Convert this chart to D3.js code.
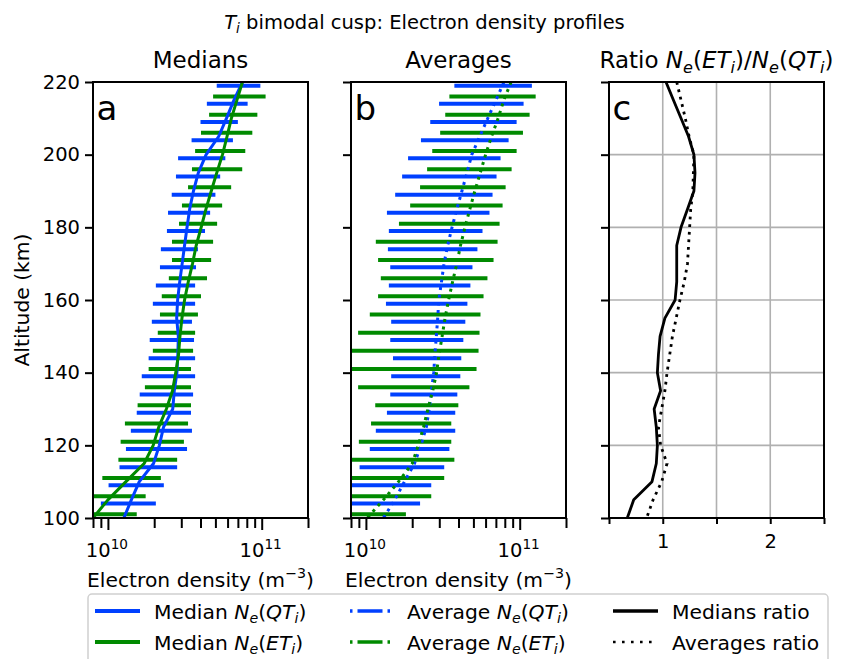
<!DOCTYPE html>
<html>
<head>
<meta charset="utf-8">
<script src="https://cdn.jsdelivr.net/npm/d3@7"></script>
<style>
  body { margin: 0; background: #fff; }
  svg { font-family: "DejaVu Sans", sans-serif; }
</style>
</head>
<body>
<svg id="chart" width="849" height="659"></svg>
<script>
  // altitude bins (km) of the spread bars, top to bottom
  const binAlt = [217.5, 212.5, 207.5, 202.5, 197.5, 192.5, 187.5, 182.5, 177.5, 172.5, 167.5, 162.5,
                  157.5, 152.5, 147.5, 142.5, 137.5, 132.5, 127.5, 122.5, 117.5, 112.5, 107.5, 102.5];
  // altitudes (km) of the profile lines
  const lineAlt = [220, 215, 210, 205, 200, 195, 190, 185, 180, 175, 170, 165, 160,
                   155, 150, 145, 140, 135, 130, 125, 120, 115, 110, 105, 100];

  // electron densities, in units of 1e10 m^-3
  // panel a: median spread bars
  const medQtLo = [5.1, 4.4, 4.0, 3.5, 2.86, 2.77, 2.6, 2.46, 2.42, 2.21, 2.18, 2.05, 1.96, 1.93, 1.87, 1.84, 1.66, 1.61, 1.54, 1.41, 1.31, 1.19, 1.01, 0.90];
  const medQtHi = [9.8, 8.1, 7.0, 6.5, 5.8, 5.37, 5.0, 4.62, 4.28, 3.85, 3.74, 3.69, 3.69, 3.52, 3.63, 3.69, 3.69, 3.58, 3.47, 3.52, 3.27, 2.82, 2.31, 2.05];
  const medEtLo = [4.83, 4.55, 4.03, 3.69, 3.52, 3.32, 3.03, 2.90, 2.61, 2.61, 2.49, 2.24, 2.18, 2.11, 1.96, 1.84, 1.74, 1.56, 1.29, 1.21, 1.17, 0.92, 0.70, 0.60];
  const medEtHi = [10.6, 9.37, 8.69, 7.82, 7.47, 6.33, 5.53, 5.13, 4.83, 4.69, 4.41, 4.03, 3.85, 3.69, 3.58, 3.47, 3.47, 3.47, 3.32, 3.12, 2.82, 2.21, 1.76, 1.54];
  // panel b: average spread bars
  const avgQtLo = [3.76, 2.99, 2.62, 2.28, 1.88, 1.72, 1.55, 1.37, 1.41, 1.39, 1.44, 1.41, 1.35, 1.46, 1.44, 1.50, 1.46, 1.44, 1.37, 1.16, 1.06, 0.91, 0.75, 0.70];
  const avgQtHi = [12.0, 10.6, 9.55, 8.47, 7.51, 7.07, 6.66, 6.36, 5.73, 5.31, 4.93, 4.78, 4.57, 4.43, 4.30, 4.17, 4.11, 3.93, 3.81, 3.81, 3.49, 3.23, 2.66, 2.25];
  const avgEtLo = [3.49, 3.28, 3.04, 2.70, 2.50, 2.25, 1.94, 1.64, 1.16, 1.20, 1.25, 1.20, 1.06, 0.89, 0.75, 0.72, 0.89, 1.15, 1.08, 0.90, 0.70, 0.65, 0.60, 0.60];
  const avgEtHi = [12.7, 11.6, 10.5, 9.55, 8.86, 8.10, 7.74, 7.40, 7.18, 6.76, 6.17, 5.82, 5.56, 5.48, 5.40, 5.24, 4.71, 3.99, 3.59, 3.59, 3.76, 3.23, 2.66, 1.82];

  // profile lines
  const medQt = [7.5, 6.6, 5.9, 5.25, 4.35, 3.87, 3.6, 3.4, 3.27, 3.15, 3.04, 2.93, 2.84, 2.80, 2.87, 2.85, 2.81, 2.70, 2.64, 2.30, 2.16, 1.98, 1.60, 1.42, 1.27];
  const medEt = [7.5, 6.9, 6.35, 5.95, 5.56, 5.1, 4.7, 4.34, 4.04, 3.75, 3.55, 3.33, 3.15, 3.03, 2.94, 2.88, 2.76, 2.63, 2.40, 2.14, 1.97, 1.72, 1.31, 1.0, 0.80];
  const avgQt = [7.9, 7.0, 6.2, 5.5, 4.88, 4.54, 4.21, 3.90, 3.63, 3.40, 3.22, 3.10, 2.98, 2.93, 2.87, 2.81, 2.76, 2.67, 2.58, 2.47, 2.28, 2.07, 1.78, 1.54, 1.30];
  const avgEt = [8.8, 7.88, 7.24, 6.56, 6.0, 5.54, 5.11, 4.74, 4.41, 4.12, 3.90, 3.66, 3.45, 3.27, 3.13, 2.99, 2.88, 2.72, 2.53, 2.37, 2.19, 2.0, 1.63, 1.30, 1.02];

  // panel c: ratios ET/QT
  const medRatio = [1.03, 1.10, 1.17, 1.24, 1.29, 1.30, 1.29, 1.23, 1.17, 1.13, 1.13, 1.13, 1.115, 1.02, 0.975, 0.96, 0.95, 0.98, 0.92, 0.94, 0.95, 0.94, 0.90, 0.73, 0.67];
  const avgRatio = [1.13, 1.17, 1.21, 1.245, 1.29, 1.285, 1.28, 1.26, 1.25, 1.24, 1.23, 1.20, 1.16, 1.125, 1.09, 1.065, 1.04, 1.02, 0.99, 0.96, 0.98, 1.04, 0.99, 0.91, 0.85];

  const altTicks = [100, 120, 140, 160, 180, 200, 220];
  const logMajor = [1, 10];
  const logMinor = [0.8, 0.9, 2, 3, 4, 5, 6, 7, 8, 9, 20];
  const ratioTicks = [0.5, 1, 1.5, 2, 2.5];

  const BLUE = "#0040ff", GREEN = "#008a00";
  const FS = 19.5;      // tick labels
  const FL = 20.3;      // axis labels and legend
  const plotTop = 82, plotBottom = 518, pw = 215;
  const leftA = 93, leftB = 351, leftC = 609;

  const svg = d3.select("#chart");
  const defs = svg.append("defs");

  const y = d3.scaleLinear().domain([100, 220]).range([plotBottom, plotTop]);
  const xa = d3.scaleLog().domain([0.8, 20]).range([leftA, leftA + pw]);
  const xb = d3.scaleLog().domain([0.8, 20]).range([leftB, leftB + pw]);
  const xc = d3.scaleLinear().domain([0.5, 2.5]).range([leftC, leftC + pw]);

  // text with italic / sub / superscript pieces (mathtext look-alike)
  function rich(sel, parts, fs) {
    let shift = 0;
    parts.forEach((p) => {
      const target = p.sub ? 0.2 * fs : p.sup ? -0.42 * fs : 0;
      const ts = sel.append("tspan").text(p.t).attr("dy", target - shift);
      shift = target;
      if (p.sub || p.sup) ts.attr("font-size", 0.7 * fs);
      if (p.it) ts.attr("font-style", "italic");
    });
    return sel;
  }

  function panel(id, left) {
    defs.append("clipPath").attr("id", id)
      .append("rect").attr("x", left).attr("y", plotTop).attr("width", pw).attr("height", plotBottom - plotTop);
    return svg.append("g").attr("clip-path", `url(#${id})`);
  }

  function bars(g, x, lo, hi, off, color) {
    g.append("g").selectAll("line").data(binAlt).join("line")
      .attr("x1", (d, i) => x(lo[i]))
      .attr("x2", (d, i) => x(hi[i]))
      .attr("y1", (d) => y(d + off))
      .attr("y2", (d) => y(d + off))
      .attr("stroke", color)
      .attr("stroke-width", 4);
  }

  function profile(g, x, vals, color, width, dash) {
    const line = d3.line().x((d) => x(d[1])).y((d) => y(d[0]));
    const p = g.append("path").datum(d3.zip(lineAlt, vals))
      .attr("d", line)
      .attr("fill", "none")
      .attr("stroke", color)
      .attr("stroke-width", width)
      .attr("stroke-linejoin", "round");
    if (dash) p.attr("stroke-dasharray", dash);
  }

  function leftAxis(left, labels) {
    const g = svg.append("g").attr("transform", `translate(${left},0)`)
      .call(d3.axisLeft(y).tickValues(altTicks).tickSize(8).tickPadding(5)
        .tickFormat(labels ? d3.format("d") : () => ""));
    g.select(".domain").remove();
    g.selectAll(".tick line").attr("stroke", "#000").attr("stroke-width", 2);
    g.selectAll(".tick text").attr("font-size", FS).attr("fill", "#000")
      .attr("font-family", "DejaVu Sans");
  }

  function logAxis(x, cx) {
    const g = svg.append("g").attr("transform", `translate(0,${plotBottom})`)
      .call(d3.axisBottom(x).tickValues(logMinor.concat(logMajor)).tickSizeOuter(0).tickFormat(() => ""));
    g.select(".domain").remove();
    g.selectAll(".tick line").attr("stroke", "#000").attr("stroke-width", 2)
      .attr("y2", (d) => (logMajor.includes(d) ? 12 : 10));
    logMajor.forEach((d) => {
      const t = svg.append("text").attr("x", x(d) - 1).attr("y", 557)
        .attr("text-anchor", "middle").attr("font-size", FS);
      rich(t, [{ t: "10" }, { t: String(10 + Math.log10(d)), sup: 1 }], FS);
    });
    const lab = svg.append("text").attr("x", cx).attr("y", 587)
      .attr("text-anchor", "middle").attr("font-size", FL);
    rich(lab, [{ t: "Electron density (m" }, { t: "\u22123", sup: 1 }, { t: ")" }], FL);
  }

  function frame(left) {
    svg.append("rect").attr("x", left).attr("y", plotTop).attr("width", pw).attr("height", plotBottom - plotTop)
      .attr("fill", "none").attr("stroke", "#000").attr("stroke-width", 2);
  }

  function letter(left, s) {
    svg.append("text").attr("x", left + 3.5).attr("y", 120).attr("font-size", 34).text(s);
  }

  // ---- panel a: medians
  const ga = panel("clipA", leftA);
  bars(ga, xa, medQtLo, medQtHi, 1.5, BLUE);
  bars(ga, xa, medEtLo, medEtHi, -1.5, GREEN);
  profile(ga, xa, medQt, BLUE, 3);
  profile(ga, xa, medEt, GREEN, 3);

  // ---- panel b: averages
  const gb = panel("clipB", leftB);
  bars(gb, xb, avgQtLo, avgQtHi, 1.5, BLUE);
  bars(gb, xb, avgEtLo, avgEtHi, -1.5, GREEN);
  profile(gb, xb, avgQt, BLUE, 3, "3,4.7");
  profile(gb, xb, avgEt, GREEN, 3, "3,4.7");

  // ---- panel c: ratios
  const gc = panel("clipC", leftC);
  gc.append("g").selectAll("line").data(ratioTicks).join("line")
    .attr("x1", (d) => xc(d)).attr("x2", (d) => xc(d))
    .attr("y1", plotTop).attr("y2", plotBottom)
    .attr("stroke", "#b0b0b0").attr("stroke-width", 1.6);
  gc.append("g").selectAll("line").data(altTicks).join("line")
    .attr("x1", leftC).attr("x2", leftC + pw)
    .attr("y1", (d) => y(d)).attr("y2", (d) => y(d))
    .attr("stroke", "#b0b0b0").attr("stroke-width", 1.6);
  profile(gc, xc, medRatio, "#000", 2.8);
  profile(gc, xc, avgRatio, "#000", 2.8, "2.8,4.8");

  // axes
  leftAxis(leftA, true);
  leftAxis(leftB, false);
  leftAxis(leftC, false);
  logAxis(xa, leftA + pw / 2);
  logAxis(xb, leftB + pw / 2);

  const gcx = svg.append("g").attr("transform", `translate(0,${plotBottom})`)
    .call(d3.axisBottom(xc).tickValues(ratioTicks).tickSize(6).tickPadding(10)
      .tickFormat((d) => (d === 1 || d === 2 ? d3.format("d")(d) : "")));
  gcx.select(".domain").remove();
  gcx.selectAll(".tick line").attr("stroke", "#000").attr("stroke-width", 2);
  gcx.selectAll(".tick text").attr("font-size", FS).attr("fill", "#000").attr("font-family", "DejaVu Sans");

  frame(leftA); frame(leftB); frame(leftC);
  letter(leftA, "a"); letter(leftB, "b"); letter(leftC, "c");

  // titles
  rich(svg.append("text").attr("x", 424.5).attr("y", 29).attr("text-anchor", "middle").attr("font-size", 19.5),
    [{ t: "T", it: 1 }, { t: "i", it: 1, sub: 1 }, { t: " bimodal cusp: Electron density profiles" }], 19.5);
  svg.append("text").attr("x", leftA + pw / 2).attr("y", 68).attr("text-anchor", "middle")
    .attr("font-size", 23).text("Medians");
  svg.append("text").attr("x", leftB + pw / 2).attr("y", 68).attr("text-anchor", "middle")
    .attr("font-size", 23).text("Averages");
  rich(svg.append("text").attr("x", leftC + pw / 2).attr("y", 68).attr("text-anchor", "middle").attr("font-size", 23),
    [{ t: "Ratio " }, { t: "N", it: 1 }, { t: "e", it: 1, sub: 1 }, { t: "(" }, { t: "ET", it: 1 }, { t: "i", it: 1, sub: 1 },
     { t: ")/" }, { t: "N", it: 1 }, { t: "e", it: 1, sub: 1 }, { t: "(" }, { t: "QT", it: 1 }, { t: "i", it: 1, sub: 1 }, { t: ")" }], 23);

  svg.append("text")
    .attr("transform", `translate(29,${(plotTop + plotBottom) / 2}) rotate(-90)`)
    .attr("text-anchor", "middle").attr("font-size", FL).text("Altitude (km)");

  // ---- legend
  const legendItems = [
    { col: 0, row: 0, color: BLUE, dash: null, w: 4, parts: [{ t: "Median " }, { t: "N", it: 1 }, { t: "e", it: 1, sub: 1 }, { t: "(" }, { t: "QT", it: 1 }, { t: "i", it: 1, sub: 1 }, { t: ")" }] },
    { col: 0, row: 1, color: GREEN, dash: null, w: 4, parts: [{ t: "Median " }, { t: "N", it: 1 }, { t: "e", it: 1, sub: 1 }, { t: "(" }, { t: "ET", it: 1 }, { t: "i", it: 1, sub: 1 }, { t: ")" }] },
    { col: 1, row: 0, color: BLUE, dash: "2.5,5,25,5,2.5,100", w: 3.5, parts: [{ t: "Average " }, { t: "N", it: 1 }, { t: "e", it: 1, sub: 1 }, { t: "(" }, { t: "QT", it: 1 }, { t: "i", it: 1, sub: 1 }, { t: ")" }] },
    { col: 1, row: 1, color: GREEN, dash: "2.5,5,25,5,2.5,100", w: 3.5, parts: [{ t: "Average " }, { t: "N", it: 1 }, { t: "e", it: 1, sub: 1 }, { t: "(" }, { t: "ET", it: 1 }, { t: "i", it: 1, sub: 1 }, { t: ")" }] },
    { col: 2, row: 0, color: "#000", dash: null, w: 3.5, parts: [{ t: "Medians ratio" }] },
    { col: 2, row: 1, color: "#000", dash: "2.6,6.4", w: 2.6, parts: [{ t: "Averages ratio" }] },
  ];
  const colHandle = [95, 350, 613];
  const colText = [154, 407, 672];
  const rowY = [611, 642];

  svg.append("rect").attr("x", 88).attr("y", 594).attr("width", 740).attr("height", 70).attr("rx", 4)
    .attr("fill", "#fff").attr("fill-opacity", 0.8).attr("stroke", "#d0d0d0").attr("stroke-width", 1.5);
  const lg = svg.append("g");
  legendItems.forEach((d) => {
    const h = lg.append("line")
      .attr("x1", colHandle[d.col]).attr("x2", colHandle[d.col] + 45)
      .attr("y1", rowY[d.row]).attr("y2", rowY[d.row])
      .attr("stroke", d.color).attr("stroke-width", d.w);
    if (d.dash) h.attr("stroke-dasharray", d.dash);
    rich(lg.append("text").attr("x", colText[d.col]).attr("y", rowY[d.row] + 7.5).attr("font-size", FL), d.parts, FL);
  });
</script>
</body>
</html>
